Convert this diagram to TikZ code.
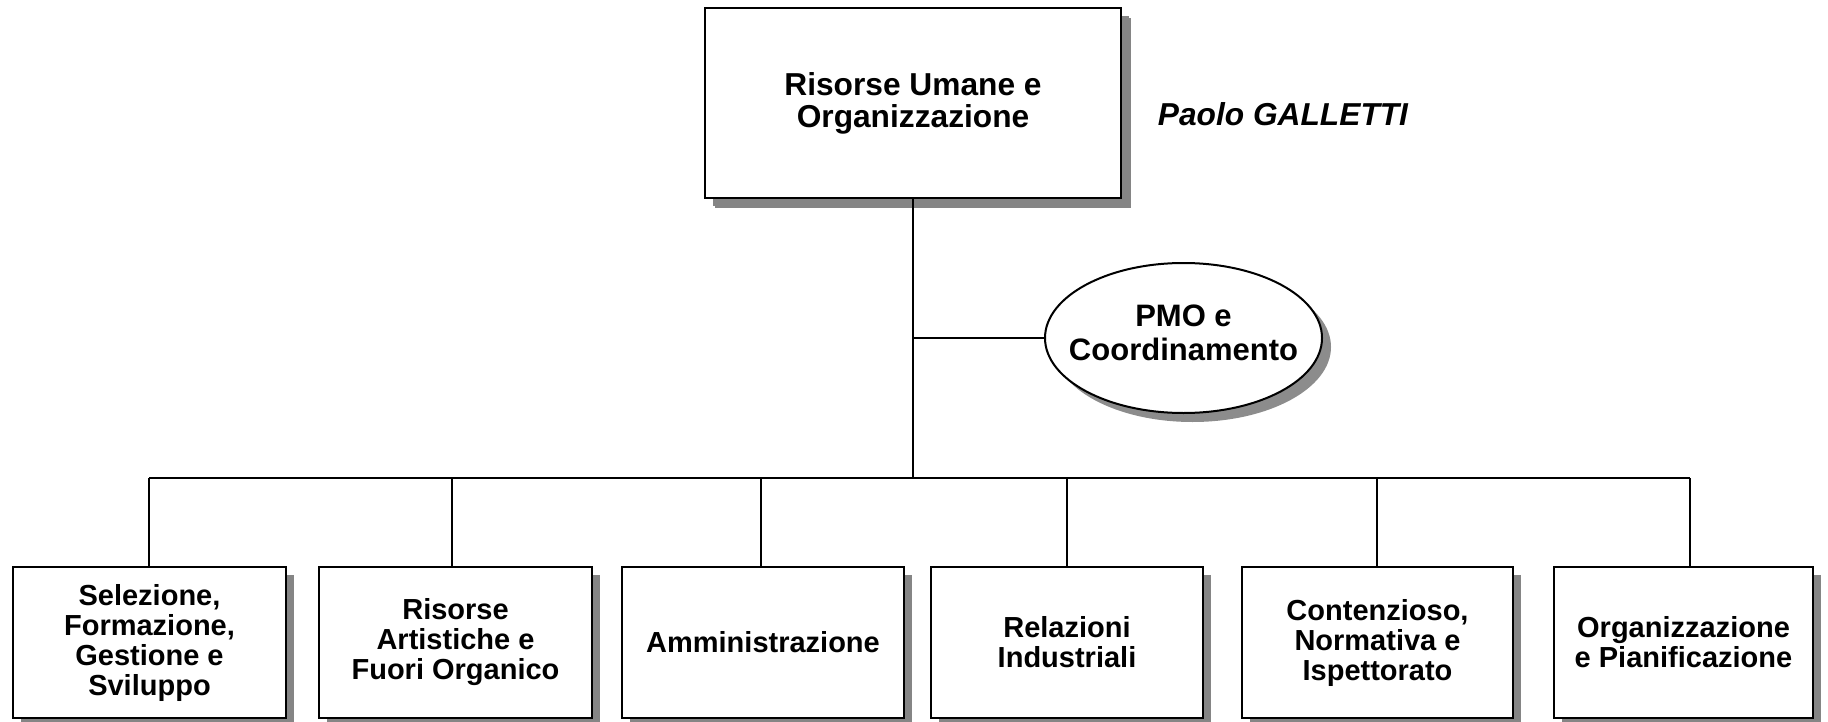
\documentclass[tikz,border=0pt]{standalone}
\usepackage{fontspec}
\setmainfont{Liberation Sans}
\usepackage{tikz}
\usetikzlibrary{positioning,shapes.geometric,shadows}
\tikzset{
unitbox/.style={
draw,
line width=2.6pt,
fill=white,
inner sep=0pt,
align=center,
minimum height=151pt,
font=\bfseries\fontsize{29}{30}\selectfont,
drop shadow={shadow xshift=8pt,shadow yshift=-8pt,fill=black!48,opacity=1}
},
headbox/.style={
unitbox,
minimum width=416pt,
minimum height=190pt,
font=\bfseries\fontsize{31.7}{32}\selectfont,
drop shadow={shadow xshift=10pt,shadow yshift=-10pt,fill=black!48,opacity=1}
},
staffbox/.style={
ellipse,
draw,
line width=2pt,
fill=white,
inner xsep=-19pt,
inner ysep=0pt,
text depth=10pt,
align=center,
minimum width=277pt,
minimum height=150pt,
font=\bfseries\fontsize{31}{34}\selectfont,
drop shadow={shadow xshift=9pt,shadow yshift=-9pt,fill=black!45,opacity=1}
},
link/.style={
line width=1.6pt
}
}

\begin{document}
\begin{tikzpicture}[x=1pt,y=-1pt]
\useasboundingbox (0,0) rectangle (1828,722);
\node[headbox](top) at (913,103){Risorse Umane e\\Organizzazione};
\node[font=\bfseries\itshape\fontsize{31.7}{32}\selectfont](head) at (1283,114){Paolo GALLETTI};
\node[staffbox](pmo) at (1183.5,338){PMO e\\Coordinamento};

\node[unitbox,minimum width=273pt](b1) at (149.5,642.5){Selezione,\\Formazione,\\Gestione e\\Sviluppo};
\node[unitbox,minimum width=273pt](b2) at (455.5,642.5){Risorse\\Artistiche e\\Fuori Organico};
\node[unitbox,minimum width=282pt](b3) at (763,642.5){Amministrazione};
\node[unitbox,minimum width=272pt](b4) at (1067,642.5){Relazioni\\Industriali};
\node[unitbox,minimum width=271pt](b5) at (1377.5,642.5){Contenzioso,\\Normativa e\\Ispettorato};
\node[unitbox,minimum width=259pt](b6) at (1683.5,642.5){Organizzazione\\e Pianificazione};

\coordinate (bus) at (913,478);
\draw[link](top.south)--(bus);
\draw[link](pmo.west)--(pmo.west -| top.south);
\draw[link]([xshift=-0.5pt]b1.north |- bus)--([xshift=6.5pt]b6.north |- bus);
\foreach \n/\dx in {b1/-0.5,b2/-3.5,b3/-2,b4/0,b5/-0.5,b6/6.5}
\draw[link]([xshift=\dx pt]\n.north)--([xshift=\dx pt]\n.north |- bus);
\end{tikzpicture}
\end{document}
